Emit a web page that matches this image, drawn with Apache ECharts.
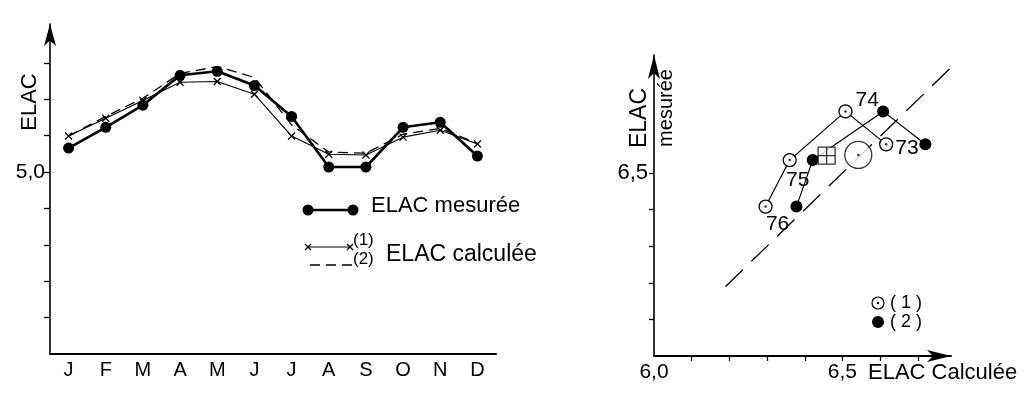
<!DOCTYPE html>
<html>
<head>
<meta charset="utf-8">
<script src="https://cdn.jsdelivr.net/npm/echarts@6/dist/echarts.min.js"></script>
<style>
  html, body { margin: 0; padding: 0; background: #fff; }
  #chart { width: 1032px; height: 397px; }
</style>
</head>
<body>
<div id="chart"></div>
<script>
// left panel: monthly ELAC
const months = ['J', 'F', 'M', 'A', 'M', 'J', 'J', 'A', 'S', 'O', 'N', 'D']
const elacMesuree = [5.066, 5.123, 5.184, 5.266, 5.277, 5.238, 5.153, 5.014, 5.014, 5.123, 5.137, 5.044]
const elacCalc1 = [5.099, 5.148, 5.197, 5.247, 5.249, 5.214, 5.099, 5.049, 5.047, 5.096, 5.115, 5.077]
const elacCalc2 = [5.099, 5.153, 5.203, 5.271, 5.290, 5.260, 5.130, 5.055, 5.052, 5.104, 5.120, 5.079]
const leftYTicks = [4.6, 4.7, 4.8, 4.9, 5.0, 5.1, 5.2, 5.3]
const leftYLabels = [5.0]

// right panel: annual means, calculated (x) vs measured (y)
const years = ['73', '74', '75', '76']
const annualMesuree = [6.578, 6.668, 6.535, 6.408]
const annualCalc1 = [6.616, 6.508, 6.360, 6.296]
const annualCalc2 = [6.720, 6.608, 6.421, 6.378]
const meanCalc1 = [6.458, 6.547]
const meanCalc2 = [6.542, 6.549]
const bisector = [6.19, 6.80]
const rightXTicks = [6.1, 6.2, 6.3, 6.4, 6.5, 6.6, 6.7]
const rightXLabels = [6.0, 6.5]
const rightYTicks = [6.1, 6.2, 6.3, 6.4, 6.5]
const rightYLabels = [6.5]

const FONT = 'Liberation Sans'
const comma = v => v.toFixed(1).replace('.', ',')
const cross = 'path://M0,0L10,10M10,0L0,10'
const squareCross = 'path://M0,0L2,0L2,2L0,2Z M1,0L1,2 M0,1L2,1'
// label offsets for the year tags (style only)
const yearLabelPos = [
  { position: 'right', offset: [-3, 4] },
  { position: 'right', offset: [-2, -11] },
  { position: 'bottom', offset: [8, -3] },
  { position: 'bottom', offset: [12, -5] }
]

const calc1Pts = annualCalc1.map((x, i) => [x, annualMesuree[i]])
const calc2Pts = annualCalc2.map((x, i) => [x, annualMesuree[i]])

const tickStyle = { color: '#000', width: 1.3 }
const txt = { color: '#000', fontFamily: FONT }

function seg(x1, y1, x2, y2, w) {
  return { type: 'line', shape: { x1, y1, x2, y2 }, style: { stroke: '#000', lineWidth: w } }
}
function label(x, y, text, size, extra) {
  return { type: 'text', x, y, ...extra, style: { text, font: size + 'px ' + FONT, fill: '#000', verticalAlign: 'middle', ...(extra && extra.style) } }
}

const chart = echarts.init(document.getElementById('chart'))
chart.setOption({
  backgroundColor: '#fff',
  animation: false,
  textStyle: { fontFamily: FONT, color: '#000' },
  grid: [
    { left: 50, top: 24, right: 536, bottom: 43 },
    { left: 654, top: 55, right: 81, bottom: 41 }
  ],
  xAxis: [
    {
      gridIndex: 0,
      type: 'category',
      data: months,
      boundaryGap: true,
      axisLine: { show: true, lineStyle: { color: '#000', width: 2 } },
      axisTick: { show: false },
      axisLabel: { ...txt, fontSize: 20, margin: 6 }
    },
    {
      gridIndex: 1,
      type: 'value',
      min: 6.0,
      max: 6.788,
      splitLine: { show: false },
      axisLine: { show: true, onZero: false, lineStyle: { color: '#000', width: 1.8 }, symbol: ['none', 'arrow'], symbolSize: [9, 24] },
      axisTick: { show: true, customValues: rightXTicks, length: 5, lineStyle: tickStyle },
      axisLabel: { ...txt, fontSize: 21, margin: 6, customValues: rightXLabels, formatter: comma },
      name: 'ELAC Calculée',
      nameLocation: 'end',
      nameGap: -83,
      nameTextStyle: { ...txt, fontSize: 22, align: 'left', verticalAlign: 'top', padding: [6, 0, 0, 0] }
    }
  ],
  yAxis: [
    {
      gridIndex: 0,
      type: 'value',
      min: 4.5,
      max: 5.407,
      splitLine: { show: false },
      axisLine: { show: true, onZero: false, lineStyle: { color: '#000', width: 1.6 }, symbol: ['none', 'arrow'], symbolSize: [9, 22] },
      axisTick: { show: true, customValues: leftYTicks, length: 6, lineStyle: tickStyle },
      axisLabel: { ...txt, fontSize: 21, margin: 5, customValues: leftYLabels, formatter: comma }
    },
    {
      gridIndex: 1,
      type: 'value',
      min: 6.0,
      max: 6.822,
      splitLine: { show: false },
      axisLine: { show: true, onZero: false, lineStyle: { color: '#000', width: 1.6 }, symbol: ['none', 'arrow'], symbolSize: [9, 24] },
      axisTick: { show: true, customValues: rightYTicks, length: 5, lineStyle: tickStyle },
      axisLabel: { ...txt, fontSize: 22, margin: 6, customValues: rightYLabels, formatter: comma }
    }
  ],
  series: [
    {
      name: '(2)',
      type: 'line',
      xAxisIndex: 0,
      yAxisIndex: 0,
      data: elacCalc2,
      showSymbol: false,
      lineStyle: { color: '#000', width: 1.3, type: [10, 6] },
      z: 2
    },
    {
      name: '(1)',
      type: 'line',
      xAxisIndex: 0,
      yAxisIndex: 0,
      data: elacCalc1,
      symbol: cross,
      symbolSize: 7,
      itemStyle: { color: '#000', borderColor: '#000', borderWidth: 1.3 },
      lineStyle: { color: '#000', width: 1.1 },
      z: 3
    },
    {
      name: 'ELAC mesurée',
      type: 'line',
      xAxisIndex: 0,
      yAxisIndex: 0,
      data: elacMesuree,
      symbol: 'circle',
      symbolSize: 11,
      itemStyle: { color: '#000' },
      lineStyle: { color: '#000', width: 2.6 },
      z: 4
    },
    // right panel
    {
      type: 'line',
      xAxisIndex: 1,
      yAxisIndex: 1,
      data: bisector.map(v => [v, v]),
      showSymbol: false,
      lineStyle: { color: '#000', width: 1.3, type: [24, 12] },
      z: 1
    },
    {
      name: '(2) annuel',
      type: 'line',
      xAxisIndex: 1,
      yAxisIndex: 1,
      data: calc2Pts,
      symbol: 'circle',
      symbolSize: 12,
      itemStyle: { color: '#000' },
      lineStyle: { color: '#000', width: 1.2 },
      z: 3
    },
    {
      name: '(1) annuel',
      type: 'line',
      xAxisIndex: 1,
      yAxisIndex: 1,
      data: calc1Pts.map((p, i) => ({ value: p, label: yearLabelPos[i] })),
      symbol: 'circle',
      symbolSize: 13,
      itemStyle: { color: '#fff', borderColor: '#000', borderWidth: 1.3 },
      lineStyle: { color: '#000', width: 1.2 },
      label: {
        show: true,
        ...txt,
        fontSize: 21,
        formatter: p => years[p.dataIndex]
      },
      z: 4
    },
    {
      type: 'scatter',
      xAxisIndex: 1,
      yAxisIndex: 1,
      data: [meanCalc1],
      symbol: squareCross,
      symbolSize: 17,
      itemStyle: { color: '#fff', borderColor: '#000', borderWidth: 1.3 },
      z: 5
    },
    {
      type: 'scatter',
      xAxisIndex: 1,
      yAxisIndex: 1,
      data: [meanCalc2],
      symbol: 'circle',
      symbolSize: 27,
      itemStyle: { color: '#fff', borderColor: '#000', borderWidth: 1.3 },
      z: 5
    },
    {
      // centre dots of the open circles
      type: 'scatter',
      xAxisIndex: 1,
      yAxisIndex: 1,
      data: calc1Pts.concat([meanCalc2]),
      symbol: 'circle',
      symbolSize: 2.5,
      itemStyle: { color: '#000' },
      z: 6
    }
  ],
  graphic: [
    // left titles
    label(30, 102, 'ELAC', 22, { rotation: Math.PI / 2, style: { align: 'center' } }),
    // left legend
    seg(308, 210, 353, 210, 2.6),
    { type: 'circle', shape: { cx: 308, cy: 210, r: 5.5 }, style: { fill: '#000' } },
    { type: 'circle', shape: { cx: 353, cy: 210, r: 5.5 }, style: { fill: '#000' } },
    label(371, 206, 'ELAC mesurée', 22),
    seg(308, 247, 350, 247, 1.1),
    seg(305, 244, 311, 250, 1.2),
    seg(311, 244, 305, 250, 1.2),
    seg(347, 244, 353, 250, 1.2),
    seg(353, 244, 347, 250, 1.2),
    label(353, 240, '(1)', 17),
    { type: 'line', shape: { x1: 310, y1: 265, x2: 352, y2: 265 }, style: { stroke: '#000', lineWidth: 1.3, lineDash: [10, 6] } },
    label(353, 259, '(2)', 17),
    label(386, 255, 'ELAC calculée', 23),
    // right titles
    label(640, 118, 'ELAC', 23, { rotation: Math.PI / 2, style: { align: 'center' } }),
    label(666, 108, 'mesurée', 20, { rotation: Math.PI / 2, style: { align: 'center' } }),
    // right legend
    { type: 'circle', shape: { cx: 878, cy: 303, r: 6 }, style: { fill: '#fff', stroke: '#000', lineWidth: 1.2 } },
    { type: 'circle', shape: { cx: 878, cy: 303, r: 1.2 }, style: { fill: '#000' } },
    label(890, 303, '( 1 )', 18),
    { type: 'circle', shape: { cx: 878, cy: 322, r: 6 }, style: { fill: '#000' } },
    label(890, 322, '( 2 )', 18)
  ]
})
</script>
</body>
</html>
